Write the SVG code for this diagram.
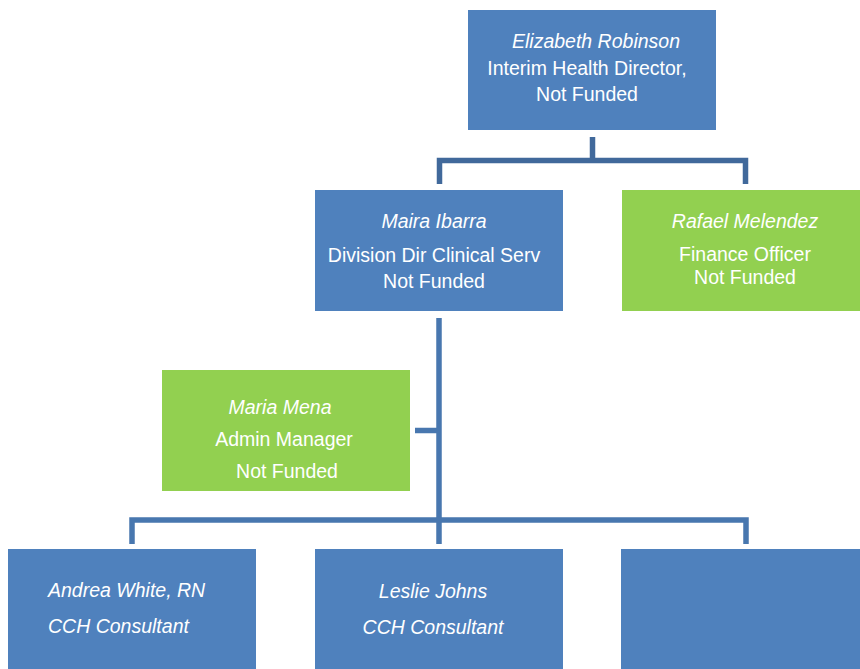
<svg xmlns="http://www.w3.org/2000/svg" width="860" height="669" viewBox="0 0 860 669">
<style>
.blue{fill:#4F81BD}
.green{fill:#92D050}
.t{font-family:"Liberation Sans",Arial,sans-serif;font-size:19.5px;fill:#FFFFFF;text-anchor:middle}
.i{font-style:italic}
.l{text-anchor:start}
.c1{fill:none;stroke:#41699B;stroke-width:5.5}
.c2{fill:none;stroke:#4877AF;stroke-width:5.5}
</style>
<rect width="860" height="669" fill="#FFFFFF"/>
<g id="connectors">
<path class="c1" d="M592.5,137 V160.5 M439.5,184 V160.5 H745.5 V184"/>
<path class="c2" d="M439,318 V544 M415,430.5 H439 M132,544 V520 H746 V544"/>
</g>
<g id="n-robinson">
<rect class="blue" x="468" y="10" width="248" height="120"/>
<text class="t i" x="596" y="48">Elizabeth Robinson</text>
<text class="t" x="587" y="75">Interim Health Director,</text>
<text class="t" x="587" y="101">Not Funded</text>
</g>
<g id="n-ibarra">
<rect class="blue" x="315" y="190" width="248" height="121"/>
<text class="t i" x="434" y="228">Maira Ibarra</text>
<text class="t" x="434" y="262">Division Dir Clinical Serv</text>
<text class="t" x="434" y="288">Not Funded</text>
</g>
<g id="n-melendez">
<rect class="green" x="622" y="190" width="238" height="121"/>
<text class="t i" x="745" y="228">Rafael Melendez</text>
<text class="t" x="745" y="261">Finance Officer</text>
<text class="t" x="745" y="284">Not Funded</text>
</g>
<g id="n-mena">
<rect class="green" x="162" y="370" width="248" height="121"/>
<text class="t i" x="280" y="414">Maria Mena</text>
<text class="t" x="284" y="446">Admin Manager</text>
<text class="t" x="287" y="478">Not Funded</text>
</g>
<g id="n-white">
<rect class="blue" x="8" y="549" width="248" height="120"/>
<text class="t i l" x="48" y="597">Andrea White, RN</text>
<text class="t i l" x="48" y="633">CCH Consultant</text>
</g>
<g id="n-johns">
<rect class="blue" x="315" y="549" width="248" height="120"/>
<text class="t i" x="433" y="598">Leslie Johns</text>
<text class="t i" x="433" y="634">CCH Consultant</text>
</g>
<g id="n-empty">
<rect class="blue" x="621" y="549" width="239" height="120"/>
</g>
</svg>
